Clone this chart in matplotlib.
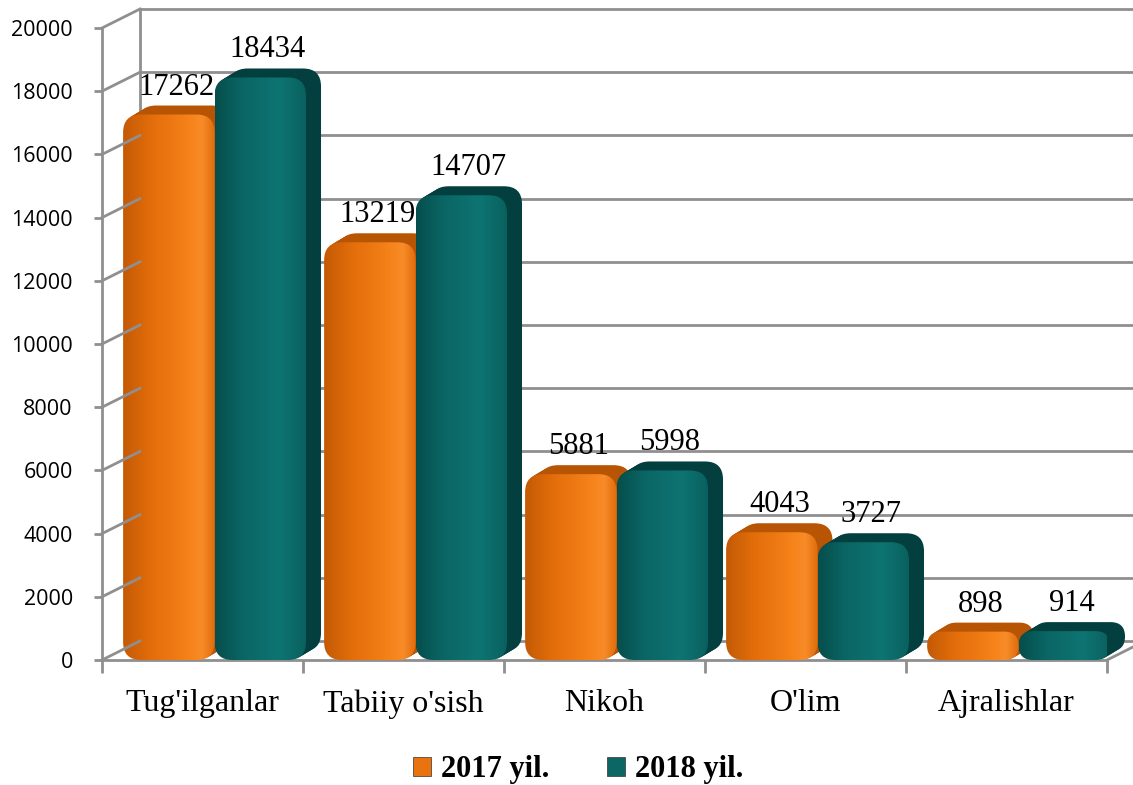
import matplotlib.pyplot as plt
import numpy as np
from matplotlib.patches import FancyBboxPatch, Patch
from matplotlib.colors import LinearSegmentedColormap
from matplotlib.transforms import offset_copy, IdentityTransform
from matplotlib.lines import Line2D

categories = ["Tug'ilganlar", "Tabiiy o'sish", "Nikoh", "O'lim", "Ajralishlar"]
y2017 = [17262, 13219, 5881, 4043, 898]
y2018 = [18434, 14707, 5998, 3727, 914]
series_names = ['2017 yil.', '2018 yil.']
yticks = list(range(0, 20001, 2000))

W, H = 1133, 785
fig = plt.figure(figsize=(W / 100, H / 100), dpi=100)
ax = fig.add_axes([102 / W, 125 / H, 1005 / W, 632 / H])
n = len(categories)
ax.set_xlim(0, n)
ax.set_ylim(0, 20000)
ax.set_autoscale_on(False)
for s in ax.spines.values():
    s.set_visible(False)
ax.patch.set_visible(False)

grid_c = '#8f8f8f'
dx, dy = 38, 19  # depth of the back wall, px

# back wall + side wall
back = offset_copy(ax.transData, fig=fig, x=dx, y=dy, units='dots')
for v in yticks:
    ax.plot([0, n], [v, v], color=grid_c, lw=2, transform=back, clip_on=False, zorder=1)
    p = ax.transData.transform((0, v))
    fig.add_artist(Line2D([p[0], p[0] + dx], [p[1], p[1] + dy], color=grid_c, lw=2,
                          transform=IdentityTransform(), zorder=1))
ax.plot([0, 0], [0, 20000], color=grid_c, lw=2, transform=back, clip_on=False, zorder=1)
p = ax.transData.transform((n, 0))
fig.add_artist(Line2D([p[0], p[0] + dx], [p[1], p[1] + dy], color=grid_c, lw=2,
                      transform=IdentityTransform(), zorder=1))
# front axes
ax.plot([0, 0], [0, 20000], color=grid_c, lw=2, clip_on=False, zorder=2)
ax.plot([0, n], [0, 0], color=grid_c, lw=2, clip_on=False, zorder=2)

# ticks
ax.set_yticks(yticks)
ax.set_yticklabels([str(v) for v in yticks], family='Open Sans', fontsize=15.5)
ax.tick_params(axis='y', length=6, width=2, color=grid_c, pad=15)
ax.set_xticks(range(n + 1))
ax.set_xticklabels([])
ax.tick_params(axis='x', which='major', length=9, width=2, color=grid_c)
ax.set_xticks(np.arange(n) + 0.5, minor=True)
ax.set_xticklabels(categories, minor=True, family='Liberation Serif', fontsize=23)
ax.tick_params(axis='x', which='minor', length=0, pad=21)

# 3d-looking rounded bars
ux = n / 1005
uy = 20000 / 632
aspect = uy / ux
bdx, bdy = 15, 9
steps = 8
grad = np.linspace(0, 1, 256).reshape(1, -1)

cmaps = [
    LinearSegmentedColormap.from_list('o', [(0, '#c45a06'), (0.3, '#e26d0a'), (0.72, '#f6821a'),
                                            (0.86, '#f88c28'), (1, '#e06c0b')]),
    LinearSegmentedColormap.from_list('t', [(0, '#064e4d'), (0.3, '#0a6664'), (0.7, '#0e7472'),
                                            (1, '#09605e')]),
]
side_colors = ['#b85505', '#043f3f']
legend_colors = ['#e8730f', '#0b6664']

w = 0.455
offsets = [0.105, 0.56]
for si, vals in enumerate([y2017, y2018]):
    for i, v in enumerate(vals):
        x0 = i + offsets[si]
        r = min(18 * ux, (v / aspect) / 2)
        z = 3 + si * 2 + i * 0.01
        style = f'round,pad=0,rounding_size={r}'
        for k in range(steps, 0, -1):
            tr = offset_copy(ax.transData, fig=fig, x=bdx * k / steps, y=bdy * k / steps, units='dots')
            ax.add_patch(FancyBboxPatch((x0, 0), w, v, boxstyle=style, mutation_aspect=aspect,
                                        transform=tr, fc=side_colors[si], ec='none', zorder=z,
                                        clip_on=False))
        front = FancyBboxPatch((x0, 0), w, v, boxstyle=style, mutation_aspect=aspect,
                               fc='none', ec='none', zorder=z + 0.5)
        ax.add_patch(front)
        im = ax.imshow(grad, extent=(x0, x0 + w, 0, v), cmap=cmaps[si], aspect='auto',
                       zorder=z + 0.5, interpolation='bicubic')
        im.set_clip_path(front)
        ax.annotate(str(v), (x0 + w / 2, v), xytext=(bdx / 2, bdy + 4), textcoords='offset pixels',
                    ha='center', va='bottom', family='Liberation Serif', fontsize=22, zorder=10,
                    annotation_clip=False)

ax.set_xlim(0, n)
ax.set_ylim(0, 20000)

handles = [Patch(fc=c, ec='#333333', lw=0.5) for c in legend_colors]
fig.legend(handles, series_names, loc='center', bbox_to_anchor=(578 / W, 1 - 770 / H), ncol=2,
           frameon=False, prop=dict(family='Liberation Serif', weight='bold', size=22),
           handlelength=0.6, handleheight=0.6, handletextpad=0.3, columnspacing=1.9)

fig.savefig('out.png', dpi=100)
